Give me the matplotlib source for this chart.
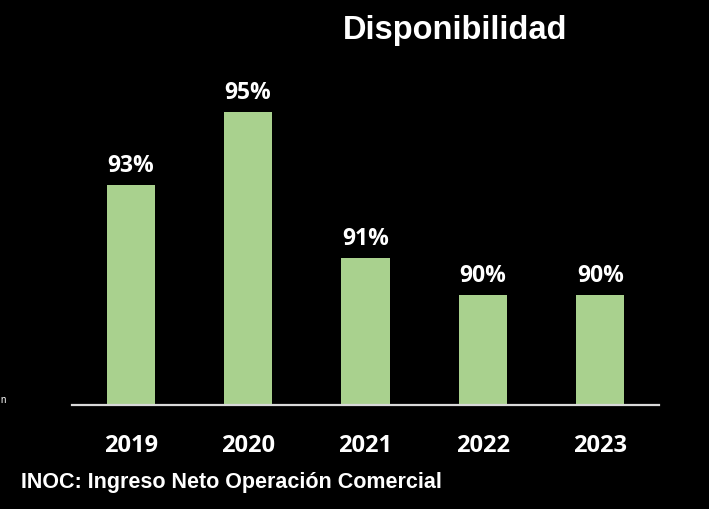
import matplotlib
matplotlib.use("Agg")
import matplotlib.pyplot as plt

years = ["2019", "2020", "2021", "2022", "2023"]
values = [93, 95, 91, 90, 90]
labels = ["93%", "95%", "91%", "90%", "90%"]

W, H, DPI = 709, 510, 100
fig = plt.figure(figsize=(W / DPI, H / DPI), dpi=DPI, facecolor="black")
ax = fig.add_axes([72 / W, 1 - 406 / H, (659 - 72) / W, (406 - 3) / H])
ax.set_facecolor("black")

x = list(range(len(years)))
ax.bar(x, values, width=0.41, color="#A9D18E", bottom=0)
ax.set_ylim(87, 98)
ax.set_xlim(-0.5, 4.5)

for xi, v, lab in zip(x, values, labels):
    ax.annotate(lab, (xi, v), xytext=(0, 6), textcoords="offset points",
                ha="center", va="bottom", color="white", fontsize=16.5,
                fontweight="bold", family="Open Sans")

for s in ["top", "right", "left"]:
    ax.spines[s].set_visible(False)
ax.spines["bottom"].set_color("#D9D9D9")
ax.spines["bottom"].set_linewidth(1.6)
ax.set_yticks([])
ax.set_xticks(x)
ax.set_xticklabels(years, color="white", fontsize=17, fontweight="bold", family="Open Sans")
ax.tick_params(axis="x", length=0, pad=20)

fig.text(455 / W, 1 - 31 / H, "Disponibilidad", ha="center", va="center", color="white",
         fontsize=23.5, fontweight="bold", family="Liberation Sans")
fig.text(21 / W, 1 - 483 / H, "INOC: Ingreso Neto Operación Comercial", ha="left", va="center",
         color="white", fontsize=15.5, fontweight="bold", family="Liberation Sans")
fig.text(0.5 / W, 1 - 400 / H, "n", ha="left", va="center", color="white", fontsize=7,
         family="Liberation Sans")

fig.savefig("out.png", dpi=DPI, facecolor="black")
